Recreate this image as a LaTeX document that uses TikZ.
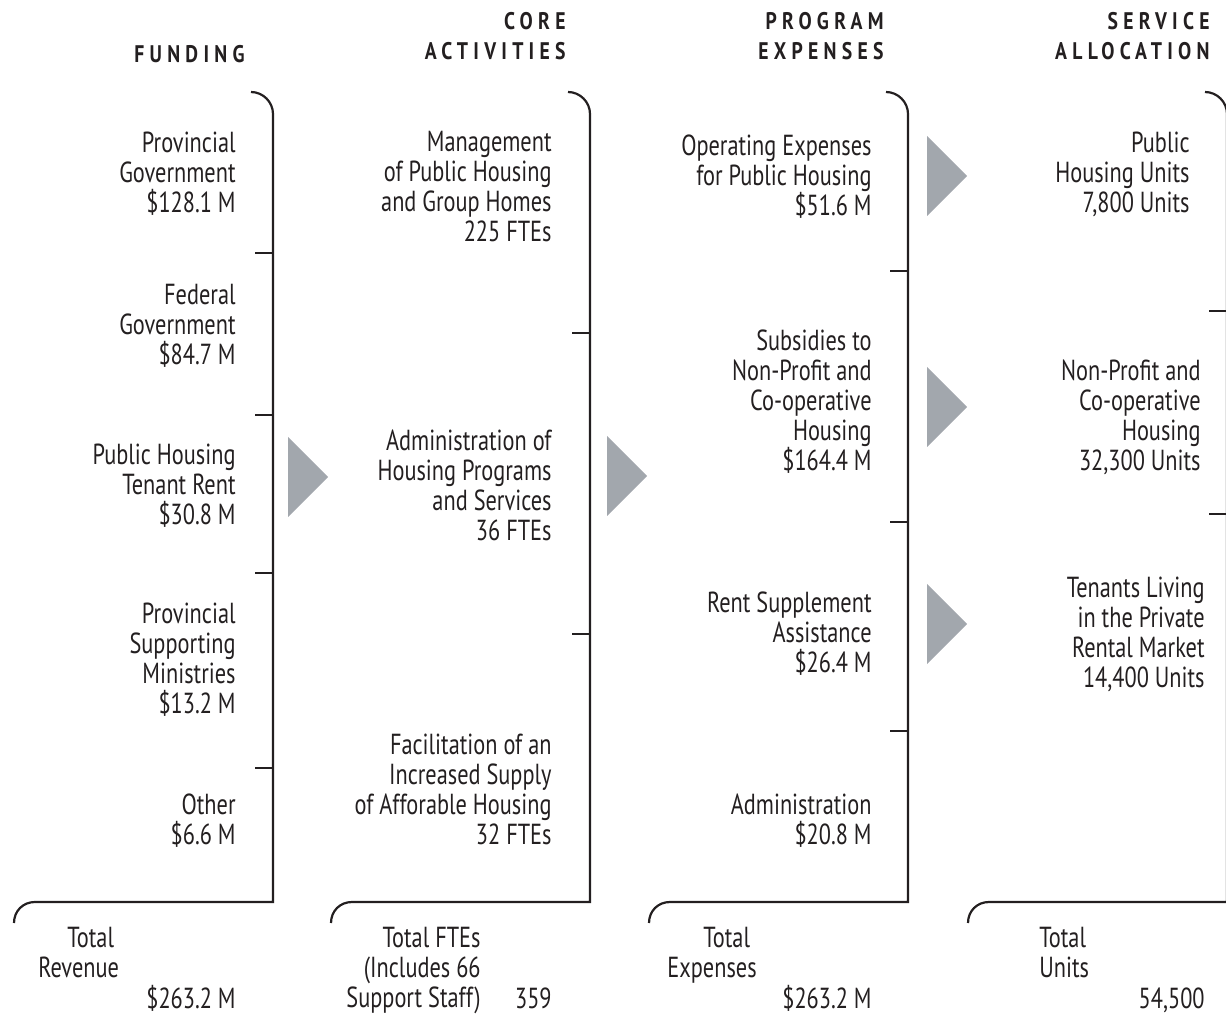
\documentclass[tikz,border=0pt]{standalone}
\usepackage{fontspec}
\setmainfont{PT Sans}[FakeStretch=0.77]
\newfontfamily\headfont{PT Sans}[FakeStretch=0.82, LetterSpace=22]
\usepackage{xcolor}
\definecolor{inkgrey}{HTML}{231F20}
\definecolor{pointergrey}{HTML}{A2A7AD}

\begin{document}
\begin{tikzpicture}[
	x=0.5pt, y=-0.5pt,
	rule/.style={draw=inkgrey, line width=1.1pt},
	entry/.style={anchor=north east, align=right, inner sep=0pt, text=inkgrey, font=\fontsize{14.5}{15}\selectfont},
	head/.style={anchor=north east, align=right, inner sep=0pt, text=inkgrey, font=\headfont\bfseries\fontsize{12}{15}\selectfont},
	pointer/.pic={\fill[pointergrey] (0,-40) -- (40,0) -- (0,40) -- cycle;}
]
	\useasboundingbox (0,0) rectangle (1226,1015);
	\clip (0,0) rectangle (1226,1015);

	% headings
	\node[head] (hfund) at (245,45) {FUNDING};
	\node[head] (hcore) at (566,12) {CORE\\ACTIVITIES};
	\node[head] (hexp) at (884,12) {PROGRAM\\EXPENSES};
	\node[head] (hserv) at (1210,12) {SERVICE\\ALLOCATION};

	% brackets
	\foreach \cx in {273,590,908,1227}
		\draw[rule] (\cx-22,92) .. controls (\cx-10,92) and (\cx,102) .. (\cx,114)
			-- (\cx,902) -- (\cx-238,902) .. controls (\cx-250,902) and (\cx-259,911) .. (\cx-259,923);
	\foreach \ty in {253,415,573,768}
		\draw[rule] (255,\ty) -- (273,\ty);
	\foreach \ty in {333,634}
		\draw[rule] (572,\ty) -- (590,\ty);
	\foreach \ty in {271,522,731}
		\draw[rule] (890,\ty) -- (908,\ty);
	\foreach \ty in {311,514}
		\draw[rule] (1209,\ty) -- (1227,\ty);

	% funding
	\node[entry] (fundA) at (236,132) {Provincial\\Government\\\$128.1 M};
	\node[entry] (fundB) at (236,284) {Federal\\Government\\\$84.7 M};
	\node[entry] (fundC) at (236,444) {Public Housing\\Tenant Rent\\\$30.8 M};
	\node[entry] (fundD) at (236,603) {Provincial\\Supporting\\Ministries\\\$13.2 M};
	\node[entry] (fundE) at (236,793) {Other\\\$6.6 M};

	% core activities
	\node[entry] (coreA) at (552,131) {Management\\of Public Housing\\and Group Homes\\225 FTEs};
	\node[entry] (coreB) at (552,429) {Administration of\\Housing Programs\\and Services\\36 FTEs};
	\node[entry] (coreC) at (552,734) {Facilitation of an\\Increased Supply\\of Afforable Housing\\32 FTEs};

	% program expenses
	\node[entry] (expA) at (872,134) {Operating Expenses\\for Public Housing\\\$51.6 M};
	\node[entry] (expB) at (872,329) {Subsidies to\\Non-Profit and\\Co-operative\\Housing\\\$164.4 M};
	\node[entry] (expC) at (872,591) {Rent Supplement\\Assistance\\\$26.4 M};
	\node[entry] (expD) at (872,793) {Administration\\\$20.8 M};

	% service allocation
	\node[entry] (unitA) at (1190,132) {Public\\Housing Units\\7,800 Units};
	\node[entry] (unitB) at (1201,359) {Non-Profit and\\Co-operative\\Housing\\32,300 Units};
	\node[entry] (unitC) at (1205,577) {Tenants Living\\in the Private\\Rental Market\\14,400 Units};

	% totals
	\node[entry, anchor=north west, align=left] (totRev) at (38,927) {\hspace*{14.5pt}Total\\Revenue};
	\node[entry] (sumRev) at (236,985) {\$263.2 M};
	\node[entry] (totFte) at (481,927) {Total FTEs\\(Includes 66\\Support Staff)};
	\node[entry] (sumFte) at (552,987) {359};
	\node[entry, anchor=north west, align=left] (totExp) at (667,927) {\hspace*{18pt}Total\\Expenses};
	\node[entry] (sumExp) at (872,985) {\$263.2 M};
	\node[entry, anchor=north west, align=left] (totUnit) at (1039,927) {Total\\Units};
	\node[entry] (sumUnit) at (1205,987) {54,500};

	% pointers
	\pic at (288,477) {pointer};
	\pic at (607,476) {pointer};
	\pic at (927,176) {pointer};
	\pic at (927,407) {pointer};
	\pic at (927,624) {pointer};
\end{tikzpicture}
\end{document}
